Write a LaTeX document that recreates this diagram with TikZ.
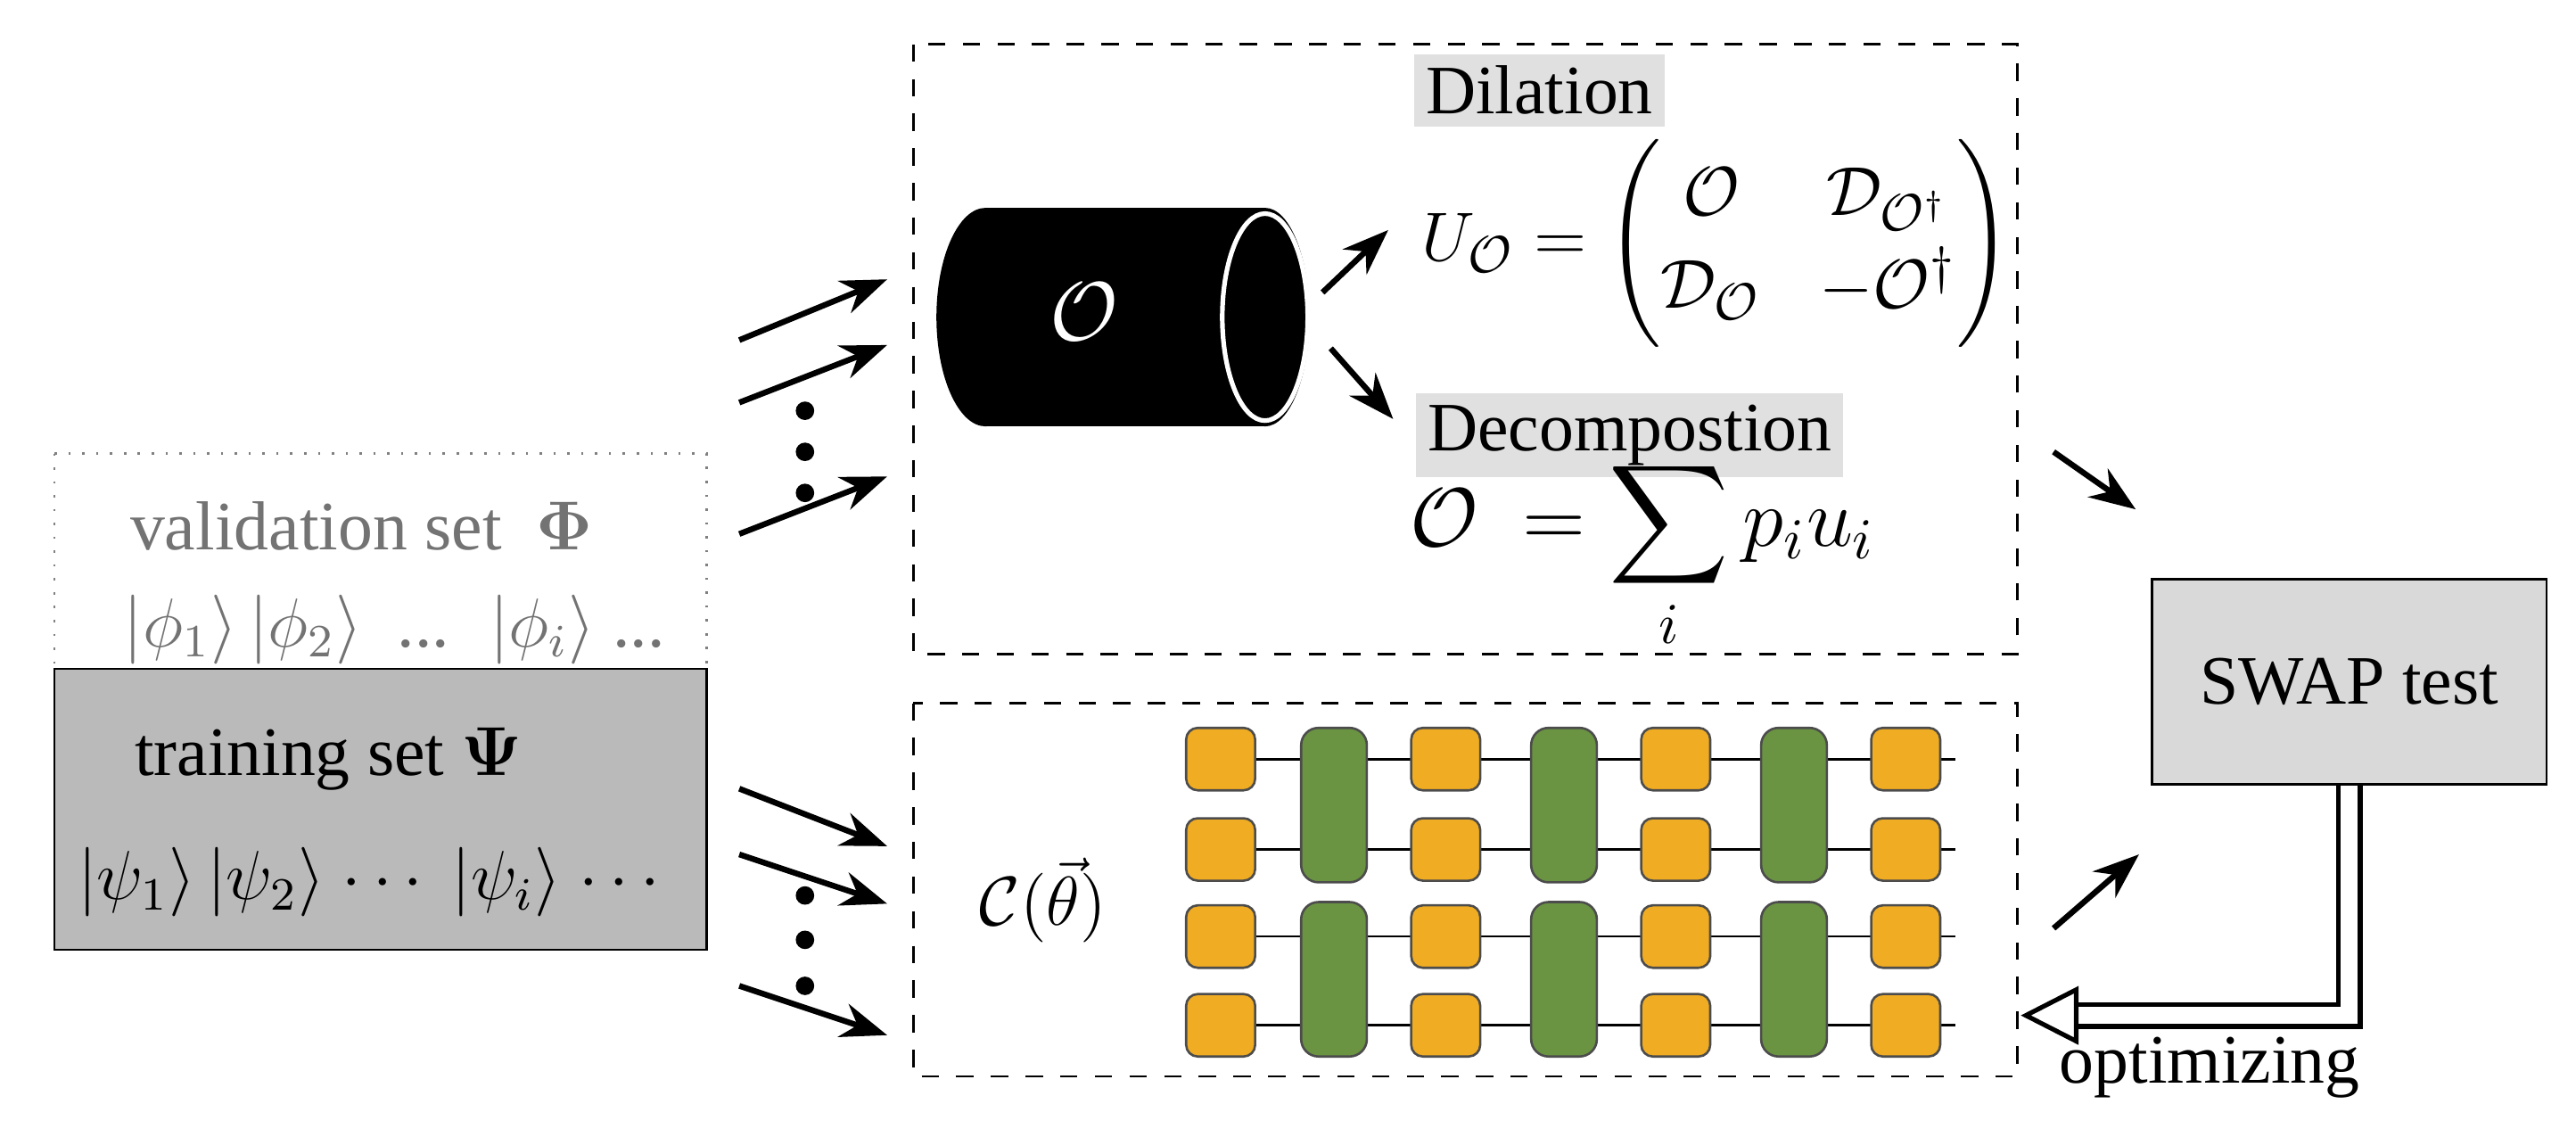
\documentclass[tikz,border=0pt]{standalone}
\usepackage{fontspec}
\usepackage{amsmath,bm}
\setmainfont{Liberation Serif}
\usetikzlibrary{arrows.meta,calc}
\definecolor{orangeq}{HTML}{F0AC22}
\definecolor{greenq}{HTML}{6A9441}
\tikzset{
  inarrow/.style={-{Stealth[length=8pt,width=6pt]},line width=1pt},
  dashbox/.style={draw,dashed,thin},
  onegate/.style={draw=black!70,fill=orangeq,rounded corners=2pt,minimum width=4.2mm,minimum height=3.8mm,inner sep=0pt},
  twogate/.style={draw=black!70,fill=greenq,rounded corners=3pt,minimum width=4.0mm,minimum height=9.4mm,inner sep=0pt},
  graybg/.style={fill=black!12,inner sep=2pt}
}
\begin{document}
\begin{tikzpicture}[x=0.1mm,y=-0.1mm,font=\fontsize{12}{14}\selectfont]
  \useasboundingbox (0,0) rectangle (1568,687);
  % data sets
  \draw[dotted,gray] (33,276) rectangle (430,407);
  \draw[fill=black!27] (33,407) rectangle (430,578);
  \node[text=black!55] (val) at (220,320) {validation set \ $\bm{\Phi}$};
  \node[text=black!55] (valk) at (240,383) {$|\phi_1\rangle\,|\phi_2\rangle$ \ ... \ $|\phi_i\rangle$ ...};
  \node (train) at (200,462) {training set $\bm{\Psi}$};
  \node (traink) at (228,537) {$|\psi_1\rangle\,|\psi_2\rangle$ $\cdots$ $|\psi_i\rangle$ $\cdots$};
  % boxes
  \draw[dashbox] (556,27) rectangle (1228,398);
  \draw[dashbox] (556,428) rectangle (1228,655);
  % channel cylinder
  \fill (600,193) ellipse[x radius=30,y radius=66.5];
  \fill (600,126.5) rectangle (770,259.5);
  \fill (770,193) ellipse[x radius=27,y radius=66.5];
  \draw[white,thick] (770,193) ellipse[x radius=26,y radius=63];
  \node[text=white,font=\Large] (chan) at (660,190) {$\mathcal{O}$};
  \draw[inarrow] (805,178) -- (845,140);
  \draw[inarrow] (810,212) -- (848,255);
  \node[graybg] (dil) at (937,55) {Dilation};
  \node[font=\fontsize{13}{16}\selectfont] (umat) at (1045,148) {$U_{\mathcal{O}}=\begin{pmatrix}\mathcal{O} & \mathcal{D}_{\mathcal{O}^\dagger}\\ \mathcal{D}_{\mathcal{O}} & -\mathcal{O}^\dagger\end{pmatrix}$};
  \node[graybg] (dec) at (992,265) {Decompostion};
  \node[font=\Large] (sum) at (1000,338) {$\displaystyle\mathcal{O}\ =\sum_i p_i u_i$};
  % inputs
  \foreach \ya/\yb in {207/170,245/210,325/290,480/515,520/550,600/630}
    \draw[inarrow] (450,\ya) -- (540,\yb);
  \foreach \y in {250,275,300,545,572,600}
    \fill (490,\y) circle (1.6pt);
  % circuit
  \node[font=\large] (circ) at (635,548) {$\mathcal{C}(\vec{\theta})$};
  \foreach \y in {462,517,570,624} {
    \draw[thin] (722,\y) -- (1190,\y);
    \foreach \x in {743,880,1020,1160}
      \node[onegate] at (\x,\y) {};
  }
  \foreach \x in {812,952,1092} {
    \node[twogate] at (\x,490) {};
    \node[twogate] at (\x,596) {};
  }
  % swap test
  \node[draw,fill=black!15,minimum width=24mm,minimum height=12.5mm] (swap) at (1430,415) {SWAP test};
  \draw[inarrow] (1250,275) -- (1300,310);
  \draw[inarrow] (1250,565) -- (1302,520);
  \coordinate (opt) at (1230,618);
  \draw[double,double distance=3pt,thick,-{Triangle[open,length=10pt,width=10pt]}]
    (swap.south) |- (opt);
  \node (optl) at (1345,650) {optimizing};
\end{tikzpicture}
\end{document}
